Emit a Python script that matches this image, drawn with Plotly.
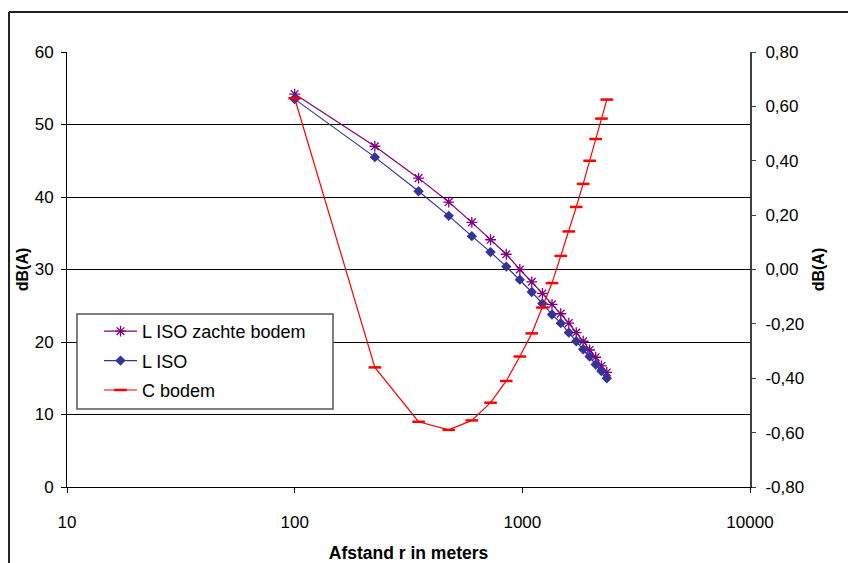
import plotly.graph_objects as go

# Distance from source (m)
afstand = [100, 225, 350, 475, 600, 725, 850, 975, 1100, 1225, 1350,
           1475, 1600, 1725, 1850, 1975, 2100, 2225, 2350]

# Sound level with soft ground, dB(A)
l_iso_zacht = [54.2, 47.0, 42.6, 39.3, 36.5, 34.1, 32.1, 30.0, 28.3, 26.7, 25.2,
               23.9, 22.6, 21.3, 20.1, 18.9, 17.9, 16.7, 15.8]

# Sound level ISO, dB(A)
l_iso = [53.5, 45.5, 40.8, 37.4, 34.6, 32.4, 30.4, 28.6, 26.9, 25.3, 23.8,
         22.6, 21.3, 20.1, 19.0, 18.0, 16.9, 16.0, 15.0]

# Ground correction, dB(A) (right axis)
c_bodem = [0.63, -0.36, -0.56, -0.59, -0.555, -0.49, -0.41, -0.32, -0.235, -0.14, -0.05,
           0.05, 0.14, 0.23, 0.315, 0.40, 0.48, 0.555, 0.625]

x_ticks = [10, 100, 1000, 10000]
left_ticks = [0, 10, 20, 30, 40, 50, 60]
right_ticks = [-0.8, -0.6, -0.4, -0.2, 0.0, 0.2, 0.4, 0.6, 0.8]
right_ticktext = [f"{v:.2f}".replace(".", ",") for v in right_ticks]

FONT = "Liberation Sans, Arial, sans-serif"
W, H = 848, 563
ML, MR, MT, MB = 67, 98, 52, 76
PW, PH = W - ML - MR, H - MT - MB


def px_x(px):
    return (px - ML) / PW


def px_y(py):
    return (H - MB - py) / PH


fig = go.Figure()

fig.add_trace(go.Scatter(
    x=afstand, y=l_iso_zacht, name="L ISO zachte bodem", mode="lines+markers",
    line=dict(color="#800080", width=1.2),
    marker=dict(symbol="asterisk-open", size=9, color="#800080", line=dict(width=1.3, color="#800080")),
    legendgroup="a",
))
fig.add_trace(go.Scatter(
    x=afstand, y=l_iso, name="L ISO", mode="lines+markers",
    line=dict(color="#333399", width=1.2),
    marker=dict(symbol="diamond", size=8, color="#333399"),
    legendgroup="b",
))
fig.add_trace(go.Scatter(
    x=afstand, y=c_bodem, name="C bodem", mode="lines+markers", yaxis="y2",
    line=dict(color="#FF0000", width=1.2),
    marker=dict(symbol="line-ew-open", size=9, color="#FF0000", line=dict(width=2.5, color="#FF0000")),
    legendgroup="c",
))

# chart-area frame (top and left edges)
fx0, fy0 = px_x(9), px_y(12)
fig.add_shape(type="line", xref="paper", yref="paper", x0=fx0, y0=fy0, x1=1.3, y1=fy0,
              line=dict(color="#222222", width=2))
fig.add_shape(type="line", xref="paper", yref="paper", x0=fx0, y0=fy0, x1=fx0, y1=-0.3,
              line=dict(color="#222222", width=2))

# legend box
fig.add_shape(type="rect", xref="paper", yref="paper", layer="above",
              x0=px_x(77), x1=px_x(333), y0=px_y(409), y1=px_y(314),
              fillcolor="white", line=dict(color="#555555", width=1.5))

fig.update_layout(
    template="none",
    width=W, height=H,
    margin=dict(l=ML, r=MR, t=MT, b=MB),
    paper_bgcolor="white", plot_bgcolor="white",
    font=dict(family=FONT, size=17, color="black"),
    showlegend=True,
    legend=dict(
        x=px_x(99), y=px_y(313), xanchor="left", yanchor="top",
        bgcolor="rgba(0,0,0,0)", borderwidth=0,
        font=dict(family=FONT, size=18, color="black"),
        traceorder="grouped", tracegroupgap=3, itemwidth=33,
    ),
    xaxis=dict(
        type="log", range=[1, 4], tickvals=x_ticks, ticktext=[str(v) for v in x_ticks],
        showgrid=False, zeroline=False, showline=True, linecolor="black", linewidth=1,
        ticks="outside", ticklen=5, tickcolor="black", ticklabelstandoff=15,
        automargin=False,
        title=dict(text="<b>Afstand r in meters</b>", font=dict(size=17.5), standoff=15),
    ),
    yaxis=dict(
        range=[0, 60], tickvals=left_ticks, showgrid=True, gridcolor="black", gridwidth=1,
        zeroline=False, showline=True, linecolor="black", linewidth=1,
        ticks="outside", ticklen=5, tickcolor="black", ticklabelstandoff=4,
        automargin=False,
        title=dict(text="<b>dB(A)</b>", font=dict(size=16), standoff=2),
    ),
    yaxis2=dict(
        range=[-0.8, 0.8], overlaying="y", side="right", tickvals=right_ticks,
        ticktext=right_ticktext, showgrid=False, zeroline=False,
        showline=True, linecolor="#404040", linewidth=2,
        ticks="outside", ticklen=4, tickcolor="#404040", ticklabelstandoff=6,
        automargin=False,
        title=dict(text="<b>dB(A)</b>", font=dict(size=16), standoff=10),
    ),
)

fig.write_html("out.html")
